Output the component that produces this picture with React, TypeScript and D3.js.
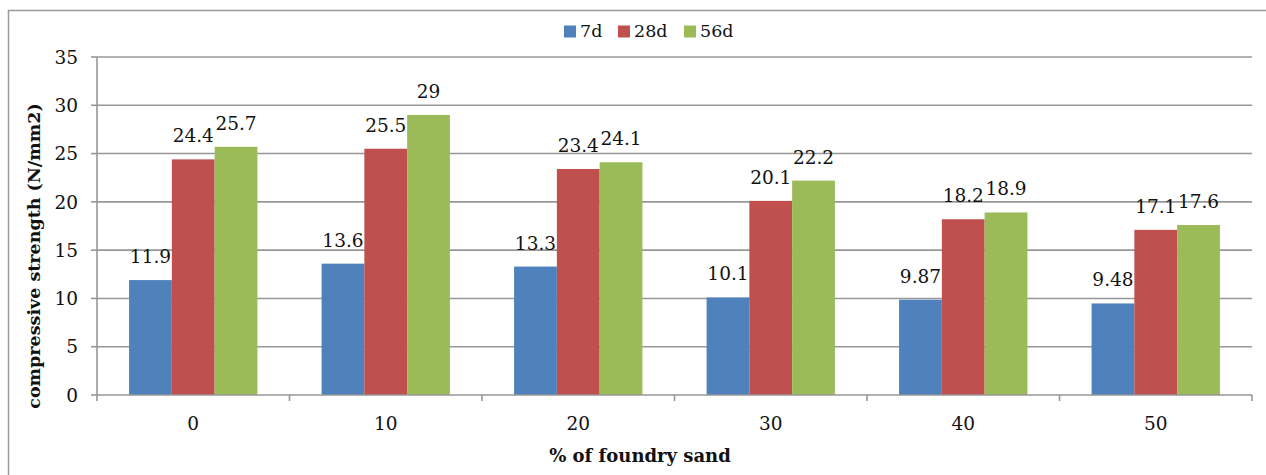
import React from "react";
import * as d3 from "d3";

const categories = ["0", "10", "20", "30", "40", "50"];
const seriesNames = ["7d", "28d", "56d"];
const values7d = [11.9, 13.6, 13.3, 10.1, 9.87, 9.48];
const values28d = [24.4, 25.5, 23.4, 20.1, 18.2, 17.1];
const values56d = [25.7, 29, 24.1, 22.2, 18.9, 17.6];
const labels7d = ["11.9", "13.6", "13.3", "10.1", "9.87", "9.48"];
const labels28d = ["24.4", "25.5", "23.4", "20.1", "18.2", "17.1"];
const labels56d = ["25.7", "29", "24.1", "22.2", "18.9", "17.6"];
const yTicks = [0, 5, 10, 15, 20, 25, 30, 35];
const colors = ["#4F81BD", "#C0504D", "#9BBB59"];

const W = 1266;
const H = 475;
const FONT = "'DejaVu Serif', 'Liberation Serif', serif";

export default function App() {
  const left = 97;
  const right = 1252;
  const top = 57;
  const bottom = 395;

  const x = d3.scaleBand<string>().domain(categories).range([left, right]).paddingInner(0).paddingOuter(0);
  const xs = d3.scaleBand<string>().domain(seriesNames).range([0, x.bandwidth()]).paddingInner(0).paddingOuter(0.75);
  const y = d3.scaleLinear().domain([0, 35]).range([bottom, top]);

  const allValues = [values7d, values28d, values56d];
  const allLabels = [labels7d, labels28d, labels56d];

  const boundaries = categories.map((c) => x(c) as number).concat([right]);

  const legendItems = [
    { name: "7d", sx: 564, tx: 580 },
    { name: "28d", sx: 618, tx: 634 },
    { name: "56d", sx: 684, tx: 700 },
  ];

  return (
    <svg width={W} height={H} style={{ display: "block", position: "absolute", left: 0, top: 0 }} fontFamily={FONT}>
      <rect x={0} y={0} width={W} height={H} fill="#fff" />
      <rect x={8.5} y={10.5} width={1280} height={500} fill="none" stroke="#9a9a9a" strokeWidth={1.5} />

      {/* gridlines */}
      {yTicks.filter((t) => t > 0).map((t) => (
        <line key={t} x1={left} x2={right} y1={y(t)} y2={y(t)} stroke="#979797" strokeWidth={1.6} />
      ))}

      {/* bars */}
      {allValues.map((vals, si) =>
        vals.map((v, ci) => {
          const bx = (x(categories[ci]) as number) + (xs(seriesNames[si]) as number);
          return (
            <rect key={`${si}-${ci}`} x={bx} y={y(v)} width={xs.bandwidth()} height={y(0) - y(v)} fill={colors[si]} />
          );
        })
      )}

      {/* data labels */}
      {allValues.map((vals, si) =>
        vals.map((v, ci) => {
          const bx = (x(categories[ci]) as number) + (xs(seriesNames[si]) as number) + xs.bandwidth() / 2;
          return (
            <text key={`l${si}-${ci}`} x={bx} y={y(v) - 17} textAnchor="middle" fontSize={18.5} fill="#111">
              {allLabels[si][ci]}
            </text>
          );
        })
      )}

      {/* axes */}
      <line x1={left} x2={left} y1={top} y2={bottom} stroke="#979797" strokeWidth={1.6} />
      <line x1={left} x2={right} y1={bottom} y2={bottom} stroke="#979797" strokeWidth={1.6} />
      {yTicks.map((t) => (
        <g key={`yt${t}`}>
          <line x1={left - 6} x2={left} y1={y(t)} y2={y(t)} stroke="#979797" strokeWidth={1.6} />
          <text x={78} y={y(t)} dy="0.36em" textAnchor="end" fontSize={18.5} fill="#111">
            {t}
          </text>
        </g>
      ))}
      {boundaries.map((bx, i) => (
        <line key={`xt${i}`} x1={bx} x2={bx} y1={bottom} y2={bottom + 6} stroke="#979797" strokeWidth={1.6} />
      ))}
      {categories.map((c) => (
        <text key={`xl${c}`} x={(x(c) as number) + x.bandwidth() / 2} y={430} textAnchor="middle" fontSize={18.5} fill="#111">
          {c}
        </text>
      ))}

      {/* axis titles */}
      <text x={640} y={462} textAnchor="middle" fontSize={18} fontWeight="bold" fill="#111">
        % of foundry sand
      </text>
      <text
        transform={`translate(40, 256) rotate(-90)`}
        textAnchor="middle"
        fontSize={17.5}
        fontWeight="bold"
        fill="#111"
      >
        compressive strength (N/mm2)
      </text>

      {/* legend */}
      {legendItems.map((it, i) => (
        <g key={it.name}>
          <rect x={it.sx} y={25.5} width={12} height={12} fill={colors[i]} />
          <text x={it.tx} y={37} fontSize={17.5} fill="#111">
            {it.name}
          </text>
        </g>
      ))}
    </svg>
  );
}
